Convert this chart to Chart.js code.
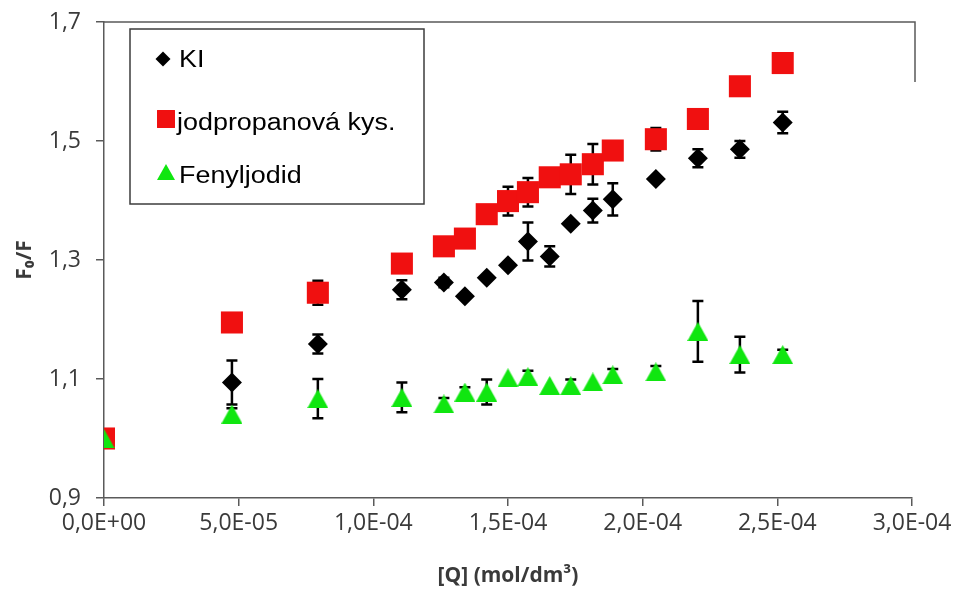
<!DOCTYPE html>
<html>
<head>
<meta charset="utf-8">
<script src="https://cdn.jsdelivr.net/npm/chart.js@4.4.1/dist/chart.umd.min.js"></script>
<style>
  body { margin: 0; background: #fff; }
</style>
</head>
<body>
<canvas id="chart" width="957" height="589"></canvas>
<script>
// quencher concentration [Q], mol/dm3
const conc = [0, 4.75e-5, 7.94e-5, 1.106e-4, 1.262e-4, 1.34e-4, 1.421e-4, 1.5e-4, 1.574e-4,
  1.655e-4, 1.733e-4, 1.815e-4, 1.889e-4, 2.049e-4, 2.205e-4, 2.361e-4, 2.52e-4];

// F0/F and their +/- errors
const kiValues  = [1.000, 1.094, 1.159, 1.250, 1.262, 1.239, 1.270, 1.291, 1.331, 1.306, 1.361, 1.383, 1.402, 1.436, 1.471, 1.486, 1.531];
const kiErrors  = [0, 0.037, 0.016, 0.016, 0.008, 0, 0, 0, 0.032, 0.017, 0, 0.020, 0.027, 0, 0.015, 0.014, 0.018];
const jodValues = [1.000, 1.195, 1.245, 1.294, 1.323, 1.336, 1.377, 1.399, 1.414, 1.439, 1.444, 1.461, 1.484, 1.503, 1.537, 1.592, 1.631];
const jodErrors = [0, 0, 0.020, 0, 0, 0, 0, 0.024, 0.024, 0, 0.033, 0.034, 0, 0.019, 0, 0, 0];
const fenValues = [1.000, 1.041, 1.067, 1.069, 1.058, 1.078, 1.078, 1.102, 1.104, 1.089, 1.089, 1.095, 1.107, 1.112, 1.180, 1.141, 1.141];
const fenErrors = [0, 0.010, 0.033, 0.025, 0.010, 0.008, 0.021, 0, 0.010, 0, 0.010, 0, 0.010, 0.010, 0.051, 0.030, 0.008];

const seriesNames = ['KI', 'jodpropanová kys.', 'Fenyljodid'];
const xTickLabels = ['0,0E+00', '5,0E-05', '1,0E-04', '1,5E-04', '2,0E-04', '2,5E-04', '3,0E-04'];
const yTickLabels = ['0,9', '1,1', '1,3', '1,5', '1,7'];

const BLACK = '#000000';
const RED = '#f01010';
const GREEN = '#10e610';
const AXIS = '#5a5a5a';

// excel-like triangle, centred on its bounding box
function makeTriangle(w, h, color) {
  const c = document.createElement('canvas');
  c.width = w; c.height = h;
  const g = c.getContext('2d');
  g.fillStyle = color;
  g.beginPath();
  g.moveTo(w / 2, 0);
  g.lineTo(w, h);
  g.lineTo(0, h);
  g.closePath();
  g.fill();
  return c;
}
const triangleMarker = makeTriangle(21, 19, GREEN);
const triangleLegend = makeTriangle(18, 16, GREEN);

const toPoints = vals => vals.map((v, i) => ({x: conc[i], y: v}));

// error bars go under the markers of their own series
const errorBars = {
  id: 'errorBars',
  beforeDatasetDraw(chart, args) {
    const ds = chart.data.datasets[args.index];
    const {ctx, scales: {x, y}} = chart;
    ctx.save();
    ctx.strokeStyle = '#000';
    ctx.lineWidth = 2.5;
    ds.errors.forEach((e, i) => {
      if (!e) return;
      const px = x.getPixelForValue(ds.data[i].x);
      const top = y.getPixelForValue(ds.data[i].y + e);
      const bot = y.getPixelForValue(ds.data[i].y - e);
      ctx.beginPath();
      ctx.moveTo(px, top); ctx.lineTo(px, bot);
      ctx.moveTo(px - 5.5, top); ctx.lineTo(px + 5.5, top);
      ctx.moveTo(px - 5.5, bot); ctx.lineTo(px + 5.5, bot);
      ctx.stroke();
    });
    ctx.restore();
  }
};

// top and right frame of the plot area
const frame = {
  id: 'frame',
  beforeDatasetsDraw(chart) {
    const {ctx, chartArea: a} = chart;
    ctx.save();
    ctx.strokeStyle = AXIS;
    ctx.lineWidth = 1.5;
    ctx.beginPath();
    ctx.moveTo(a.left, a.top);
    ctx.lineTo(a.right + 3, a.top);
    ctx.lineTo(a.right + 3, a.top + 60);
    ctx.stroke();
    ctx.restore();
  }
};

// boxed legend in the upper left corner
const boxLegend = {
  id: 'boxLegend',
  afterDraw(chart) {
    const ctx = chart.ctx;
    ctx.save();
    ctx.fillStyle = '#fff';
    ctx.strokeStyle = '#3c3c3c';
    ctx.lineWidth = 1.5;
    ctx.fillRect(130, 29, 294, 175);
    ctx.strokeRect(130, 29, 294, 175);

    ctx.fillStyle = BLACK;
    Chart.helpers.drawPoint(ctx, {pointStyle: 'rectRot', radius: 7.5, rotation: 0, borderWidth: 0}, 163, 59);
    ctx.fillStyle = RED;
    Chart.helpers.drawPoint(ctx, {pointStyle: 'rect', radius: 12.7, rotation: 0, borderWidth: 0}, 166, 119);
    ctx.drawImage(triangleLegend, 166 - 9, 172 - 8);

    // labels are slightly wide, so stretch them horizontally
    ctx.fillStyle = '#000';
    ctx.font = '23px "Liberation Sans", Arial, sans-serif';
    ctx.textBaseline = 'alphabetic';
    const lines = [[179, 67], [177, 130], [179, 183]];
    lines.forEach(([lx, ly], i) => {
      ctx.save();
      ctx.translate(lx, ly);
      ctx.scale(1.17, 1);
      ctx.fillText(seriesNames[i], 0, 0);
      ctx.restore();
    });
    ctx.restore();
  }
};

const tickFont = {family: '"Open Sans", sans-serif', size: 23};
const titleFont = {family: '"Open Sans", sans-serif', size: 21, weight: 'bold'};

new Chart(document.getElementById('chart'), {
  type: 'scatter',
  data: {
    datasets: [
      {
        label: seriesNames[0], data: toPoints(kiValues), errors: kiErrors, order: 3,
        pointStyle: 'rectRot', pointRadius: 10, backgroundColor: BLACK, borderColor: BLACK, borderWidth: 0
      },
      {
        label: seriesNames[1], data: toPoints(jodValues), errors: jodErrors, order: 2,
        pointStyle: 'rect', pointRadius: 15.6, backgroundColor: RED, borderColor: RED, borderWidth: 0
      },
      {
        label: seriesNames[2], data: toPoints(fenValues), errors: fenErrors, order: 1,
        pointStyle: triangleMarker, pointRadius: 10, backgroundColor: GREEN, borderColor: GREEN, borderWidth: 0
      }
    ]
  },
  options: {
    responsive: false,
    animation: false,
    events: [],
    layout: {autoPadding: false, padding: {top: 22, right: 45, bottom: 0, left: 0}},
    plugins: {legend: {display: false}, tooltip: {enabled: false}},
    scales: {
      x: {
        type: 'linear',
        min: 0,
        max: 3e-4,
        afterFit: s => { s.height = 91; s.paddingLeft = 0; s.paddingRight = 0; },
        ticks: {
          stepSize: 5e-5,
          padding: 4,
          color: '#3a3a3a',
          font: tickFont,
          maxRotation: 0,
          autoSkip: false,
          callback: (v, i) => xTickLabels[i]
        },
        grid: {drawOnChartArea: false, drawTicks: true, tickLength: 8, color: AXIS, lineWidth: 1.5},
        border: {display: true, color: AXIS, width: 1.5},
        title: {display: true, text: '[Q] (mol/dm³)', color: '#3a3a3a', font: titleFont, padding: {top: 0, bottom: 0}}
      },
      y: {
        type: 'linear',
        min: 0.9,
        max: 1.7,
        afterFit: s => { s.width = 104; s.paddingTop = 0; s.paddingBottom = 0; },
        ticks: {
          stepSize: 0.2,
          padding: 15,
          color: '#3a3a3a',
          font: tickFont,
          autoSkip: false,
          callback: (v, i) => yTickLabels[i]
        },
        grid: {drawOnChartArea: false, drawTicks: true, tickLength: 8, color: AXIS, lineWidth: 1.5},
        border: {display: true, color: AXIS, width: 1.5},
        title: {display: true, text: 'F₀/F', color: '#3a3a3a', font: titleFont, padding: {top: 12, bottom: 0}}
      }
    }
  },
  plugins: [errorBars, frame, boxLegend]
});
</script>
</body>
</html>
